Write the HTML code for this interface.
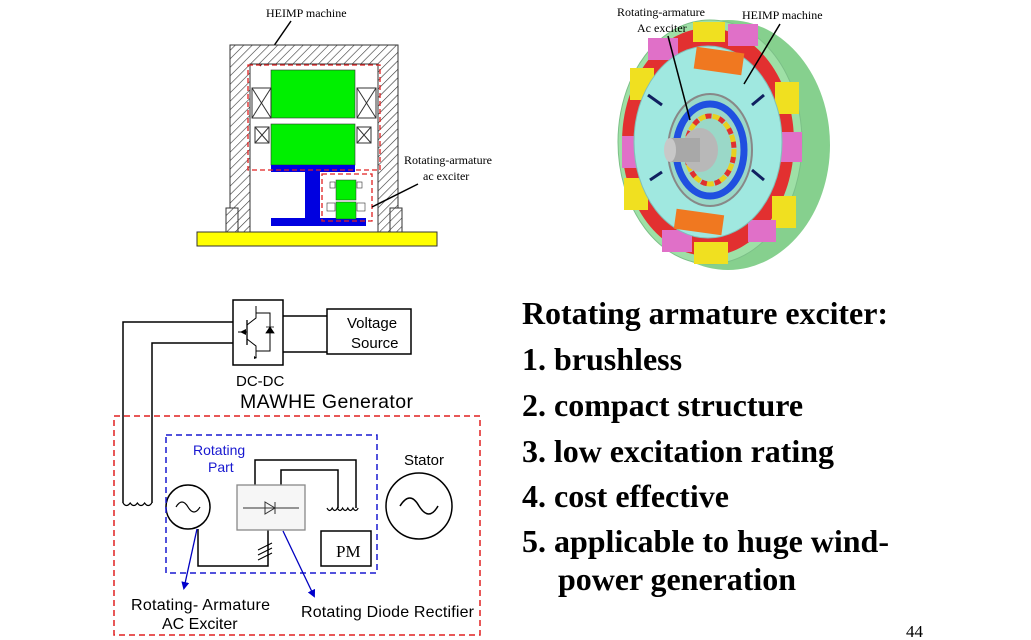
<!DOCTYPE html>
<html><head><meta charset="utf-8"><style>
html,body{margin:0;padding:0;background:#fff;width:1031px;height:640px;overflow:hidden}
svg{display:block}
.s{font-family:"Liberation Serif",serif}
.a{font-family:"Liberation Sans",sans-serif}
.b{font-family:"Liberation Serif",serif;font-weight:bold;font-size:32px}
</style></head><body>
<svg width="1031" height="640" viewBox="0 0 1031 640" xmlns="http://www.w3.org/2000/svg">
<defs>
<pattern id="h" width="6" height="6" patternUnits="userSpaceOnUse" patternTransform="rotate(45)">
<rect width="6" height="6" fill="#fff"/><line x1="0" y1="0" x2="0" y2="6" stroke="#333" stroke-width="1.2"/></pattern>
<marker id="ar" markerWidth="8" markerHeight="8" refX="6" refY="4" orient="auto" markerUnits="userSpaceOnUse"><path d="M0,0 L8,4 L0,8 z" fill="#00c"/></marker>
</defs>

<!-- Top-left cross-section -->
<text x="266" y="17" class="s" font-size="12">HEIMP machine</text>
<line x1="291" y1="21" x2="260" y2="66" stroke="#000" stroke-width="1.5"/>
<path d="M230,45 H398 V232 H378 V64 H250 V232 H230 Z" fill="url(#h)" stroke="#333"/>
<rect x="226" y="208" width="12" height="24" fill="url(#h)" stroke="#333"/>
<rect x="390" y="208" width="12" height="24" fill="url(#h)" stroke="#333"/>
<rect x="197" y="232" width="240" height="14" fill="#ffff00" stroke="#333"/>
<rect x="271" y="70" width="84" height="48" fill="#00f000" stroke="#333" stroke-width=".6"/>
<rect x="271" y="124" width="84" height="41" fill="#00f000" stroke="#333" stroke-width=".6"/>
<rect x="252" y="88" width="19" height="30" fill="#fff" stroke="#333"/><path d="M252,88 L271,118 M271,88 L252,118" stroke="#333"/>
<rect x="357" y="88" width="19" height="30" fill="#fff" stroke="#333"/><path d="M357,88 L376,118 M376,88 L357,118" stroke="#333"/>
<rect x="255" y="127" width="14" height="16" fill="#fff" stroke="#333"/><path d="M255,127 L269,143 M269,127 L255,143" stroke="#333"/>
<rect x="357" y="127" width="14" height="16" fill="#fff" stroke="#333"/><path d="M357,127 L371,143 M371,127 L357,143" stroke="#333"/>
<rect x="271" y="165" width="84" height="7" fill="#0000e0"/>
<rect x="305" y="172" width="15" height="50" fill="#0000e0"/>
<rect x="271" y="218" width="95" height="8" fill="#0000e0"/>
<rect x="336" y="180" width="20" height="20" fill="#00f000" stroke="#333" stroke-width=".5"/>
<rect x="336" y="202" width="20" height="17" fill="#00f000" stroke="#333" stroke-width=".5"/>
<rect x="330" y="182" width="5" height="6" fill="#fff" stroke="#333" stroke-width=".6"/>
<rect x="357" y="182" width="5" height="6" fill="#fff" stroke="#333" stroke-width=".6"/>
<rect x="327" y="203" width="8" height="8" fill="#fff" stroke="#333" stroke-width=".6"/>
<rect x="357" y="203" width="8" height="8" fill="#fff" stroke="#333" stroke-width=".6"/>
<rect x="248" y="65" width="132" height="105" fill="none" stroke="#e02020" stroke-width="1.3" stroke-dasharray="5,3"/>
<rect x="322" y="174" width="50" height="47" fill="none" stroke="#e02020" stroke-width="1.3" stroke-dasharray="5,3"/>
<text x="404" y="164" class="s" font-size="12">Rotating-armature</text>
<text x="423" y="180" class="s" font-size="12">ac exciter</text>
<line x1="418" y1="184" x2="372" y2="207" stroke="#000" stroke-width="1.5"/>

<!-- Top-right wheel -->
<ellipse cx="728" cy="145" rx="102" ry="125" fill="#86d08e"/>
<ellipse cx="710" cy="142" rx="92" ry="122" fill="#9ee0a6" stroke="#7cc088"/>
<ellipse cx="708" cy="142" rx="86" ry="114" fill="#e23030"/>
<g fill="#f0e020">
<rect x="693" y="22" width="32" height="20"/><rect x="630" y="68" width="24" height="32"/><rect x="775" y="82" width="24" height="32"/><rect x="624" y="178" width="24" height="32"/><rect x="772" y="196" width="24" height="32"/><rect x="694" y="242" width="34" height="22"/>
</g>
<g fill="#e070c8">
<rect x="648" y="38" width="30" height="22"/><rect x="728" y="24" width="30" height="22"/><rect x="622" y="136" width="24" height="32"/><rect x="778" y="132" width="24" height="30"/><rect x="662" y="230" width="30" height="22"/><rect x="748" y="220" width="28" height="22"/>
</g>
<ellipse cx="708" cy="142" rx="74" ry="96" fill="#a0e8e0" stroke="#80c0b8"/>
<rect x="695" y="50" width="48" height="22" fill="#f07820" transform="rotate(8 719 61)"/>
<rect x="675" y="212" width="48" height="20" fill="#f07820" transform="rotate(8 699 222)"/>
<g stroke="#102060" stroke-width="3"><line x1="648" y1="95" x2="662" y2="105"/><line x1="650" y1="180" x2="662" y2="172"/><line x1="752" y1="105" x2="764" y2="95"/><line x1="752" y1="170" x2="764" y2="180"/></g>
<ellipse cx="710" cy="150" rx="42" ry="56" fill="#9ad8c8" stroke="#888" stroke-width="2"/>
<ellipse cx="710" cy="150" rx="34" ry="46" fill="none" stroke="#2050e0" stroke-width="7"/>
<ellipse cx="710" cy="150" rx="24" ry="34" fill="none" stroke="#e8d020" stroke-width="5" stroke-dasharray="8,6"/>
<ellipse cx="710" cy="150" rx="24" ry="34" fill="none" stroke="#e03030" stroke-width="5" stroke-dasharray="6,8" stroke-dashoffset="7"/>
<ellipse cx="700" cy="150" rx="18" ry="22" fill="#b8b8b8"/>
<rect x="670" y="138" width="30" height="24" fill="#a8a8a8"/>
<ellipse cx="670" cy="150" rx="6" ry="12" fill="#c8c8c8"/>
<text x="617" y="16" class="s" font-size="12">Rotating-armature</text>
<text x="637" y="32" class="s" font-size="12">Ac exciter</text>
<text x="742" y="19" class="s" font-size="12">HEIMP machine</text>
<line x1="668" y1="36" x2="690" y2="120" stroke="#000" stroke-width="1.5"/>
<line x1="780" y1="24" x2="744" y2="84" stroke="#000" stroke-width="1.5"/>

<!-- Bottom-left circuit -->
<g fill="none" stroke="#000" stroke-width="1.5">
<rect x="233" y="300" width="50" height="65"/>
<rect x="327" y="309" width="84" height="45"/>
<line x1="283" y1="316" x2="327" y2="316"/><line x1="283" y1="352" x2="327" y2="352"/>
<polyline points="233,322 123,322 123,503"/>
<polyline points="233,343 152,343 152,503"/>
<path d="M123,503 q3.6,5 7.2,0 q3.6,5 7.2,0 q3.6,5 7.2,0 q3.6,5 7.2,0" stroke-width="1.2"/>
<line x1="247" y1="320" x2="247" y2="345" stroke-width="1.3"/>
<line x1="238" y1="332" x2="247" y2="332" stroke-width="1"/>
<polyline points="256,306 256,318 247,325" stroke-width="1"/>
<polyline points="247,339 256,346 256,358" stroke-width="1"/>
<polyline points="256,313 270,313 270,351 256,351" stroke-width="1"/>
<circle cx="188" cy="507" r="22"/>
<path d="M176,507 q6,-10 12,0 q6,10 12,0" stroke-width="1.2"/>
<circle cx="419" cy="506" r="33"/>
<path d="M400,506 q10,-16 19,0 q10,16 19,0" stroke-width="1.5"/>
<rect x="321" y="531" width="50" height="35"/>
<polyline points="198,529 198,566 268,566 268,530"/>
<polyline points="255,485 255,460 356,460 356,508"/>
<polyline points="281,485 281,470 338,470 338,508"/>
<path d="M327,508 q2.6,5 5.2,0 q2.6,5 5.2,0 q2.6,5 5.2,0 q2.6,5 5.2,0 q2.6,5 5.2,0 q2.6,5 5.2,0" stroke-width="1.2"/>
<path d="M258,550 l14,-7 M258,555 l14,-7 M258,560 l14,-7" stroke-width="1"/>
</g>
<path d="M240,332 l6,-3 v6 z" fill="#000"/>
<path d="M266,333 l4,-6 l4,6 z M266,327 h8" fill="#000" stroke="#000" stroke-width=".8"/>
<path d="M254,356 l3,2 -3,1z" fill="#000"/>
<rect x="237" y="485" width="68" height="45" fill="#f6f6f6" stroke="#888" stroke-width="1.3"/>
<line x1="243" y1="508" x2="299" y2="508" stroke="#333"/>
<path d="M265,502 v12 l10,-6 z M275,502 v12" fill="none" stroke="#333"/>
<text x="336" y="557" class="s" font-size="17">PM</text>
<text x="347" y="328" class="a" font-size="15">Voltage</text>
<text x="351" y="348" class="a" font-size="15">Source</text>
<text x="236" y="386" class="a" font-size="15">DC-DC</text>
<text x="240" y="408" class="a" font-size="19.5" textLength="173">MAWHE Generator</text>
<rect x="114" y="416" width="366" height="219" fill="none" stroke="#e02020" stroke-width="1.5" stroke-dasharray="6,4"/>
<rect x="166" y="435" width="211" height="138" fill="none" stroke="#1818d0" stroke-width="1.5" stroke-dasharray="6,4"/>
<text x="193" y="455" class="a" font-size="14" fill="#1818d0">Rotating</text>
<text x="208" y="472" class="a" font-size="14" fill="#1818d0">Part</text>
<text x="404" y="465" class="a" font-size="15">Stator</text>
<line x1="197" y1="529" x2="184" y2="588" stroke="#0000c0" stroke-width="1.3" marker-end="url(#ar)"/>
<line x1="283" y1="531" x2="314" y2="596" stroke="#0000c0" stroke-width="1.3" marker-end="url(#ar)"/>
<text x="131" y="610" class="a" font-size="16" textLength="139">Rotating- Armature</text>
<text x="162" y="629" class="a" font-size="16">AC Exciter</text>
<text x="301" y="617" class="a" font-size="16" textLength="173">Rotating Diode Rectifier</text>

<!-- Right text -->
<text x="522" y="324" class="b" textLength="366">Rotating armature exciter:</text>
<text x="522" y="370" class="b">1. brushless</text>
<text x="522" y="416" class="b">2. compact structure</text>
<text x="522" y="462" class="b" textLength="312">3. low excitation rating</text>
<text x="522" y="507" class="b">4. cost effective</text>
<text x="522" y="552" class="b" textLength="367">5. applicable to huge wind-</text>
<text x="558" y="590" class="b" textLength="238">power generation</text>
<text x="906" y="637" class="s" font-size="17">44</text>
</svg>
</body></html>
